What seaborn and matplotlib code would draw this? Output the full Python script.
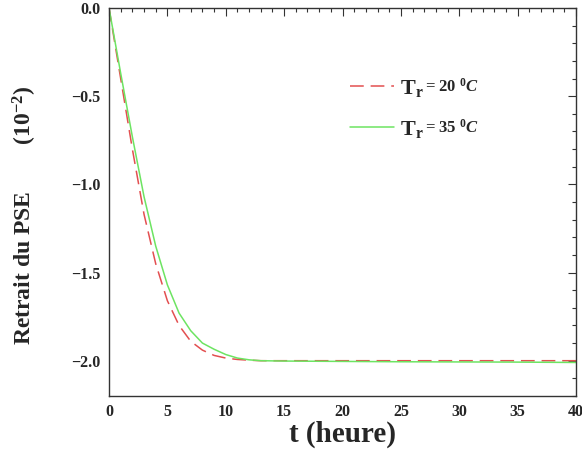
import numpy as np
import pandas as pd
import matplotlib
matplotlib.use('Agg')
import matplotlib.pyplot as plt
import seaborn as sns
from matplotlib.ticker import MultipleLocator

# data
t_heure = [0, 1, 2, 3, 4, 5, 6, 7, 8, 9, 10, 11, 12, 13, 15, 20, 25, 30, 35, 40]
retrait_20 = [0.0, -0.40, -0.80, -1.17, -1.45, -1.66, -1.80, -1.89, -1.94, -1.97,
              -1.985, -1.993, -1.997, -2.0, -2.0, -2.0, -2.0, -2.0, -2.0, -2.0]
retrait_35 = [0.0, -0.37, -0.73, -1.07, -1.35, -1.57, -1.73, -1.83, -1.90, -1.935,
              -1.965, -1.985, -1.995, -2.0, -2.002, -2.004, -2.006, -2.007, -2.008, -2.01]
series = ['20', '35']
legend_T = r'$\mathbf{T}_{\mathbf{r}}$'

df = pd.DataFrame({'t': t_heure * 2,
                   'retrait': retrait_20 + retrait_35,
                   'serie': [series[0]] * len(t_heure) + [series[1]] * len(t_heure)})

sns.set_style('white')
plt.rcParams['font.family'] = ['Liberation Serif', 'DejaVu Serif']
plt.rcParams['font.weight'] = 'bold'
plt.rcParams['mathtext.fontset'] = 'custom'
plt.rcParams['mathtext.rm'] = 'Liberation Serif:bold'
plt.rcParams['mathtext.bf'] = 'Liberation Serif:bold'
plt.rcParams['mathtext.it'] = 'Liberation Serif:italic:bold'

fig = plt.figure(figsize=(5.82, 4.51), dpi=100)
ax = fig.add_axes([0.1873, 0.122, 0.8024, 0.8603])

sns.lineplot(data=df, x='t', y='retrait', hue='serie', style='serie',
             palette=['#e34f50', '#6de462'], dashes=[(9, 4.5), ''],
             linewidth=1.1, ax=ax)

ax.set_xlim(0, 40)
ax.set_ylim(-2.2, 0.0)
ax.xaxis.set_major_locator(MultipleLocator(5))
ax.xaxis.set_minor_locator(MultipleLocator(1))
ax.yaxis.set_major_locator(MultipleLocator(0.5))
ax.yaxis.set_minor_locator(MultipleLocator(0.1))
ax.tick_params(which='both', direction='in', top=True, right=True,
               labelsize=11.5, pad=6, width=0.8, color='#333333')
ax.tick_params(which='major', length=6)
ax.tick_params(which='minor', length=3)
ax.set_xticks([0, 5, 10, 15, 20, 25, 30, 35, 40])
ax.set_xticklabels(['0', '5', '10', '15', '20', '25', '30', '35', '40'], fontweight='bold')
ax.set_yticks([0.0, -0.5, -1.0, -1.5, -2.0])
ax.set_yticklabels(['0.0', '\u22120.5', '\u22121.0', '\u22121.5', '\u22122.0'], fontweight='bold')
for s in ax.spines.values():
    s.set_linewidth(1.0)
    s.set_color('#333333')

ax.set_xlabel('t (heure)', fontsize=21, fontweight='bold', labelpad=0)
ax.set_ylabel(r'Retrait du PSE        (10$^{\mathbf{-2}}$)', fontsize=17,
              fontweight='bold')
ax.yaxis.set_label_coords(-0.15, 0.466)

handles, _ = ax.get_legend_handles_labels()
leg = ax.legend(handles, [legend_T, legend_T], loc='upper left',
                bbox_to_anchor=(0.516, 0.82), frameon=False, fontsize=16,
                borderpad=0, borderaxespad=0, handlelength=2.0,
                handletextpad=0.25, labelspacing=0.9)

# rest of the legend label in a smaller size, placed right after "T_r"
fig.canvas.draw()
renderer = fig.canvas.get_renderer()
for txt, s in zip(leg.get_texts(), series):
    bb = txt.get_window_extent(renderer)
    fig.text((bb.x1 + 1) / fig.bbox.width, (bb.y0 + 7) / fig.bbox.height,
             r'= ' + s + r' $^{\mathit{0}}\mathit{C}$', fontsize=12,
             fontweight='bold', va='baseline', ha='left')

fig.savefig('out.png', dpi=100)
